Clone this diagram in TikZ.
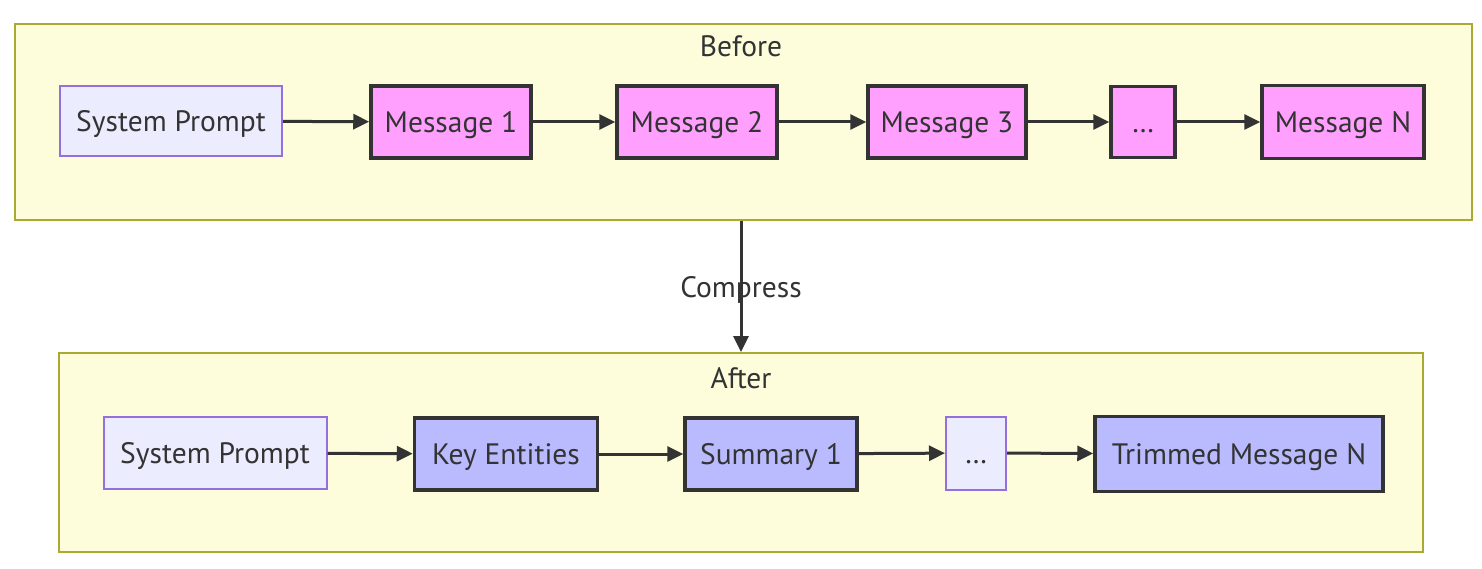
\documentclass[tikz,border=0pt]{standalone}
\usepackage{fontspec}
\setmainfont{PT Sans}
\usetikzlibrary{arrows.meta,positioning}
\definecolor{txt}{HTML}{333333}
\definecolor{clfill}{HTML}{FDFDDC}
\definecolor{clborder}{HTML}{AAAA33}
\definecolor{lav}{HTML}{ECECFF}
\definecolor{lavborder}{HTML}{9370DB}
\definecolor{pinkfill}{HTML}{FFA0FF}
\definecolor{bluefill}{HTML}{BABAFF}
\tikzset{
  cluster/.style={draw=clborder, fill=clfill, line width=2pt, inner sep=0pt},
  base/.style={inner sep=0pt, text=txt, font=\fontsize{29.5}{34}\selectfont, text height=28pt, text depth=7pt},
  sysbox/.style={base, draw=lavborder, fill=lav, line width=2pt},
  pinkbox/.style={base, draw=txt, fill=pinkfill, line width=3.5pt},
  bluebox/.style={base, draw=txt, fill=bluefill, line width=3.5pt},
  lbl/.style={text=txt, font=\fontsize{29.5}{34}\selectfont, inner sep=1pt},
  conn/.style={draw=txt, line width=3pt, -{Triangle[length=16pt,width=15pt]}}
}
\begin{document}
\begin{tikzpicture}[x=1pt,y=-1pt]
\useasboundingbox (0,0) rectangle (1482,569);
\fill[white] (0,0) rectangle (1482,569);
% clusters
\node[cluster, minimum width=1457pt, minimum height=196pt] (before) at (743.5,122) {};
\node[lbl] (beforelbl) at (741,46) {Before};
\node[cluster, minimum width=1364pt, minimum height=199pt] (after) at (741,452.5) {};
\node[lbl] (afterlbl) at (741,378) {After};
% top row
\node[sysbox, minimum width=222pt, minimum height=70pt] (sp1) at (171,121) {System Prompt};
\node[pinkbox, minimum width=160pt, minimum height=72pt] (m1) at (451,122) {Message 1};
\node[pinkbox, minimum width=160pt, minimum height=72pt] (m2) at (697,122) {Message 2};
\node[pinkbox, minimum width=158pt, minimum height=72pt] (m3) at (947,122) {Message 3};
\node[pinkbox, minimum width=64pt, minimum height=71pt] (md) at (1143,122) {\ldots};
\node[pinkbox, minimum width=162pt, minimum height=73pt] (mn) at (1343,122) {Message N};
% bottom row
\node[sysbox, minimum width=223pt, minimum height=72pt] (sp2) at (215,453) {System Prompt};
\node[bluebox, minimum width=183pt, minimum height=72pt] (ke) at (506,454) {Key Entities};
\node[bluebox, minimum width=172pt, minimum height=72pt] (s1) at (771,454) {Summary 1};
\node[sysbox, minimum width=60pt, minimum height=73pt] (bd) at (976,453) {\ldots};
\node[bluebox, minimum width=288pt, minimum height=75pt] (tm) at (1239,454) {Trimmed Message N};
% connectors
\draw[conn] (sp1) -- (m1);
\draw[conn] (m1) -- (m2);
\draw[conn] (m2) -- (m3);
\draw[conn] (m3) -- (md);
\draw[conn] (md) -- (mn);
\draw[conn] (sp2) -- (ke);
\draw[conn] (ke) -- (s1);
\draw[conn] (s1) -- (bd);
\draw[conn] (bd) -- (tm);
\draw[conn] (before.south -| beforelbl) -- (after.north -| afterlbl) node[pos=0.5, lbl, yshift=-3pt] (cmp) {Compress};
\end{tikzpicture}
\end{document}
